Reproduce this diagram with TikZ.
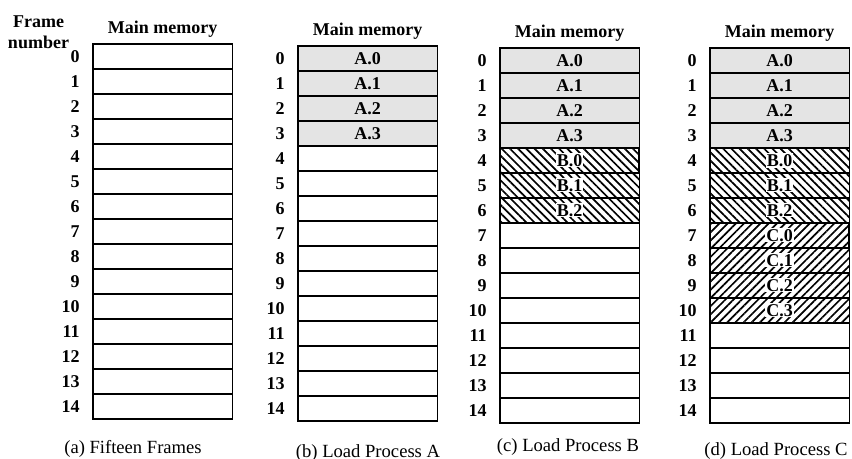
\documentclass[tikz,border=0pt]{standalone}
\usepackage{fontspec}
\setmainfont{Liberation Serif}
\usepackage{xcolor}
\usetikzlibrary{positioning,patterns.meta}
\definecolor{FrameGray}{HTML}{E4E4E4}

\begin{document}
\begin{tikzpicture}[x=0.5pt, y=-0.5pt,
    every node/.style={font=\fontsize{9}{10.5}\selectfont\bfseries, text=black, inner sep=0pt},
    MC/.style={draw, line width=0.9pt, minimum width=69.75pt, minimum height=12.5pt,
        anchor=north west},
    FN/.style={},
    HD/.style={},
    HB/.style={MC, pattern={Lines[angle=-45, distance=2.9pt, line width=0.85pt]}},
    HC/.style={MC, pattern={Lines[angle=45, distance=2.9pt, line width=0.85pt]}},
    TG/.style={fill=white, inner sep=0.5pt},
    CP/.style={font=\fontsize{9.3}{11}\selectfont, anchor=base},
  ]
  \useasboundingbox (0,0) rectangle (852,459);

  % empty frames, frame numbers and headers
  \foreach \col/\lx/\ty in {a/92/43, b/297/45, c/499/47, d/709/47} {
    \foreach \r in {0,...,14} {
      \node[MC] (\col\r) at (\lx, {\ty+25*\r}) {};
      \node[FN, left=6pt of \col\r] (n\col\r) {\r};
    }
    \node[HD, above=2.6pt of \col0] (h\col) {Main memory};
  }
  \node[align=center] (fnum) at (38.5, 32) {Frame\\number};

  % process A
  \foreach \col in {b,c,d}
  \foreach \r in {0,...,3}
  \node[MC, fill=FrameGray] (\col A\r) at (\col\r.north west) {A.\r};

  % process B
  \foreach \col in {c,d}
  \foreach \r/\k in {4/0,5/1,6/2} {
    \node[HB] (\col B\k) at (\col\r.north west) {};
    \node[TG] (t\col B\k) at (\col B\k.center) {B.\k};
  }

  % process C
  \foreach \r/\k in {7/0,8/1,9/2,10/3} {
    \node[HC] (dC\k) at (d\r.north west) {};
    \node[TG] (tdC\k) at (dC\k.center) {C.\k};
  }

  % captions
  \node[CP] (capa) at (133, 454) {(a) Fifteen Frames};
  \node[CP] (capb) at (368, 458) {(b) Load Process A};
  \node[CP] (capc) at (568, 452) {(c) Load Process B};
  \node[CP] (capd) at (776, 456) {(d) Load Process C};
\end{tikzpicture}
\end{document}
